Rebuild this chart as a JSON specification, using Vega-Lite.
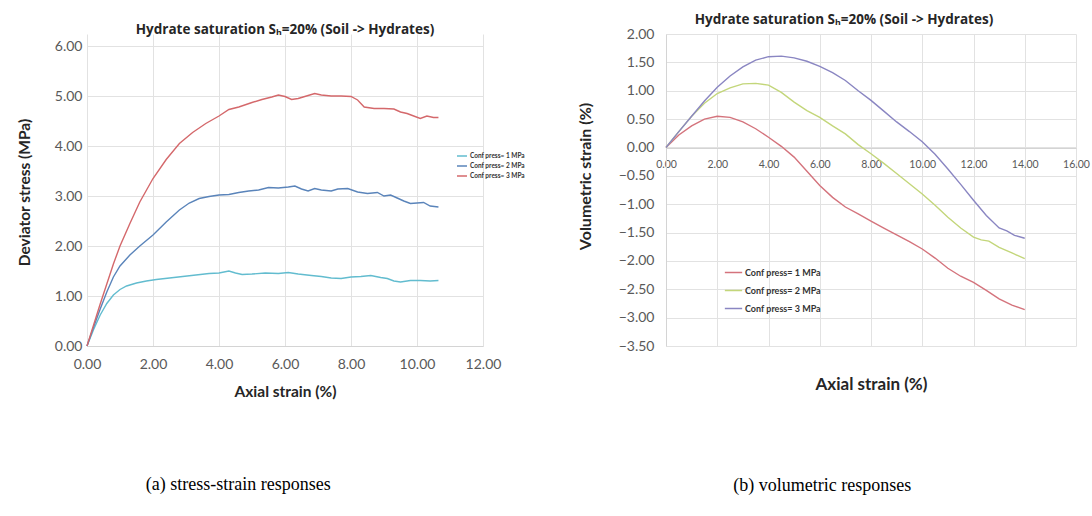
{
  "$schema": "https://vega.github.io/schema/vega-lite/v6.json",
  "padding": {"left": 17, "top": 12, "right": 5, "bottom": 5},
  "background": "white",
  "config": {
    "view": {"stroke": null},
    "axis": {"labelFont": "Lato", "titleFont": "Lato", "labelColor": "#595959", "gridColor": "#e2e2e2", "domainColor": "#d4d4d4", "ticks": false, "titleColor": "#262626", "titleFontWeight": "bold", "labelFlush": false, "labelOverlap": false},
    "legend": {"labelFont": "Lato", "labelColor": "#333333", "symbolType": "stroke", "symbolStrokeWidth": 1.5}
  },
  "resolve": {"scale": {"color": "independent"}, "legend": {"color": "independent"}},
  "datasets": {
    "stress": [
      {"press": "Conf press= 1 MPa", "strain": 0, "stress": 0}, {"press": "Conf press= 1 MPa", "strain": 0.2, "stress": 0.33}, {"press": "Conf press= 1 MPa", "strain": 0.4, "stress": 0.62}, {"press": "Conf press= 1 MPa", "strain": 0.6, "stress": 0.85}, {"press": "Conf press= 1 MPa", "strain": 0.8, "stress": 1.02}, {"press": "Conf press= 1 MPa", "strain": 1.0, "stress": 1.13}, {"press": "Conf press= 1 MPa", "strain": 1.2, "stress": 1.2}, {"press": "Conf press= 1 MPa", "strain": 1.5, "stress": 1.26}, {"press": "Conf press= 1 MPa", "strain": 1.8, "stress": 1.3}, {"press": "Conf press= 1 MPa", "strain": 2.1, "stress": 1.33}, {"press": "Conf press= 1 MPa", "strain": 2.5, "stress": 1.36}, {"press": "Conf press= 1 MPa", "strain": 2.9, "stress": 1.39}, {"press": "Conf press= 1 MPa", "strain": 3.3, "stress": 1.42}, {"press": "Conf press= 1 MPa", "strain": 3.7, "stress": 1.45}, {"press": "Conf press= 1 MPa", "strain": 4.0, "stress": 1.46}, {"press": "Conf press= 1 MPa", "strain": 4.3, "stress": 1.5}, {"press": "Conf press= 1 MPa", "strain": 4.5, "stress": 1.46}, {"press": "Conf press= 1 MPa", "strain": 4.7, "stress": 1.43}, {"press": "Conf press= 1 MPa", "strain": 5.0, "stress": 1.44}, {"press": "Conf press= 1 MPa", "strain": 5.4, "stress": 1.46}, {"press": "Conf press= 1 MPa", "strain": 5.8, "stress": 1.45}, {"press": "Conf press= 1 MPa", "strain": 6.1, "stress": 1.47}, {"press": "Conf press= 1 MPa", "strain": 6.4, "stress": 1.44}, {"press": "Conf press= 1 MPa", "strain": 6.8, "stress": 1.41}, {"press": "Conf press= 1 MPa", "strain": 7.1, "stress": 1.39}, {"press": "Conf press= 1 MPa", "strain": 7.4, "stress": 1.36}, {"press": "Conf press= 1 MPa", "strain": 7.7, "stress": 1.35}, {"press": "Conf press= 1 MPa", "strain": 8.0, "stress": 1.38}, {"press": "Conf press= 1 MPa", "strain": 8.3, "stress": 1.39}, {"press": "Conf press= 1 MPa", "strain": 8.6, "stress": 1.41}, {"press": "Conf press= 1 MPa", "strain": 8.9, "stress": 1.37}, {"press": "Conf press= 1 MPa", "strain": 9.1, "stress": 1.35}, {"press": "Conf press= 1 MPa", "strain": 9.3, "stress": 1.3}, {"press": "Conf press= 1 MPa", "strain": 9.5, "stress": 1.28}, {"press": "Conf press= 1 MPa", "strain": 9.8, "stress": 1.31}, {"press": "Conf press= 1 MPa", "strain": 10.1, "stress": 1.31}, {"press": "Conf press= 1 MPa", "strain": 10.4, "stress": 1.3}, {"press": "Conf press= 1 MPa", "strain": 10.65, "stress": 1.31},
      {"press": "Conf press= 2 MPa", "strain": 0, "stress": 0}, {"press": "Conf press= 2 MPa", "strain": 0.2, "stress": 0.38}, {"press": "Conf press= 2 MPa", "strain": 0.4, "stress": 0.74}, {"press": "Conf press= 2 MPa", "strain": 0.6, "stress": 1.08}, {"press": "Conf press= 2 MPa", "strain": 0.8, "stress": 1.38}, {"press": "Conf press= 2 MPa", "strain": 1.0, "stress": 1.6}, {"press": "Conf press= 2 MPa", "strain": 1.3, "stress": 1.82}, {"press": "Conf press= 2 MPa", "strain": 1.6, "stress": 2.0}, {"press": "Conf press= 2 MPa", "strain": 2.0, "stress": 2.22}, {"press": "Conf press= 2 MPa", "strain": 2.4, "stress": 2.48}, {"press": "Conf press= 2 MPa", "strain": 2.8, "stress": 2.72}, {"press": "Conf press= 2 MPa", "strain": 3.1, "stress": 2.86}, {"press": "Conf press= 2 MPa", "strain": 3.4, "stress": 2.95}, {"press": "Conf press= 2 MPa", "strain": 3.7, "stress": 2.99}, {"press": "Conf press= 2 MPa", "strain": 4.0, "stress": 3.02}, {"press": "Conf press= 2 MPa", "strain": 4.3, "stress": 3.03}, {"press": "Conf press= 2 MPa", "strain": 4.6, "stress": 3.07}, {"press": "Conf press= 2 MPa", "strain": 4.9, "stress": 3.1}, {"press": "Conf press= 2 MPa", "strain": 5.2, "stress": 3.12}, {"press": "Conf press= 2 MPa", "strain": 5.5, "stress": 3.17}, {"press": "Conf press= 2 MPa", "strain": 5.8, "stress": 3.16}, {"press": "Conf press= 2 MPa", "strain": 6.1, "stress": 3.18}, {"press": "Conf press= 2 MPa", "strain": 6.3, "stress": 3.2}, {"press": "Conf press= 2 MPa", "strain": 6.5, "stress": 3.14}, {"press": "Conf press= 2 MPa", "strain": 6.7, "stress": 3.1}, {"press": "Conf press= 2 MPa", "strain": 6.9, "stress": 3.15}, {"press": "Conf press= 2 MPa", "strain": 7.1, "stress": 3.12}, {"press": "Conf press= 2 MPa", "strain": 7.4, "stress": 3.1}, {"press": "Conf press= 2 MPa", "strain": 7.6, "stress": 3.14}, {"press": "Conf press= 2 MPa", "strain": 7.9, "stress": 3.15}, {"press": "Conf press= 2 MPa", "strain": 8.2, "stress": 3.08}, {"press": "Conf press= 2 MPa", "strain": 8.5, "stress": 3.05}, {"press": "Conf press= 2 MPa", "strain": 8.8, "stress": 3.07}, {"press": "Conf press= 2 MPa", "strain": 9.0, "stress": 3.0}, {"press": "Conf press= 2 MPa", "strain": 9.2, "stress": 3.02}, {"press": "Conf press= 2 MPa", "strain": 9.4, "stress": 2.96}, {"press": "Conf press= 2 MPa", "strain": 9.6, "stress": 2.9}, {"press": "Conf press= 2 MPa", "strain": 9.8, "stress": 2.85}, {"press": "Conf press= 2 MPa", "strain": 10.0, "stress": 2.86}, {"press": "Conf press= 2 MPa", "strain": 10.2, "stress": 2.87}, {"press": "Conf press= 2 MPa", "strain": 10.4, "stress": 2.8}, {"press": "Conf press= 2 MPa", "strain": 10.65, "stress": 2.78},
      {"press": "Conf press= 3 MPa", "strain": 0, "stress": 0}, {"press": "Conf press= 3 MPa", "strain": 0.2, "stress": 0.42}, {"press": "Conf press= 3 MPa", "strain": 0.4, "stress": 0.84}, {"press": "Conf press= 3 MPa", "strain": 0.6, "stress": 1.24}, {"press": "Conf press= 3 MPa", "strain": 0.8, "stress": 1.64}, {"press": "Conf press= 3 MPa", "strain": 1.0, "stress": 2.0}, {"press": "Conf press= 3 MPa", "strain": 1.3, "stress": 2.45}, {"press": "Conf press= 3 MPa", "strain": 1.6, "stress": 2.88}, {"press": "Conf press= 3 MPa", "strain": 2.0, "stress": 3.35}, {"press": "Conf press= 3 MPa", "strain": 2.4, "stress": 3.73}, {"press": "Conf press= 3 MPa", "strain": 2.8, "stress": 4.05}, {"press": "Conf press= 3 MPa", "strain": 3.2, "stress": 4.27}, {"press": "Conf press= 3 MPa", "strain": 3.6, "stress": 4.45}, {"press": "Conf press= 3 MPa", "strain": 4.0, "stress": 4.6}, {"press": "Conf press= 3 MPa", "strain": 4.3, "stress": 4.73}, {"press": "Conf press= 3 MPa", "strain": 4.6, "stress": 4.78}, {"press": "Conf press= 3 MPa", "strain": 5.0, "stress": 4.87}, {"press": "Conf press= 3 MPa", "strain": 5.3, "stress": 4.93}, {"press": "Conf press= 3 MPa", "strain": 5.6, "stress": 4.98}, {"press": "Conf press= 3 MPa", "strain": 5.8, "stress": 5.02}, {"press": "Conf press= 3 MPa", "strain": 6.0, "stress": 4.99}, {"press": "Conf press= 3 MPa", "strain": 6.2, "stress": 4.93}, {"press": "Conf press= 3 MPa", "strain": 6.4, "stress": 4.95}, {"press": "Conf press= 3 MPa", "strain": 6.6, "stress": 4.99}, {"press": "Conf press= 3 MPa", "strain": 6.9, "stress": 5.05}, {"press": "Conf press= 3 MPa", "strain": 7.1, "stress": 5.02}, {"press": "Conf press= 3 MPa", "strain": 7.4, "stress": 5.0}, {"press": "Conf press= 3 MPa", "strain": 7.7, "stress": 5.0}, {"press": "Conf press= 3 MPa", "strain": 8.0, "stress": 4.99}, {"press": "Conf press= 3 MPa", "strain": 8.2, "stress": 4.92}, {"press": "Conf press= 3 MPa", "strain": 8.4, "stress": 4.78}, {"press": "Conf press= 3 MPa", "strain": 8.7, "stress": 4.75}, {"press": "Conf press= 3 MPa", "strain": 9.0, "stress": 4.75}, {"press": "Conf press= 3 MPa", "strain": 9.3, "stress": 4.74}, {"press": "Conf press= 3 MPa", "strain": 9.5, "stress": 4.68}, {"press": "Conf press= 3 MPa", "strain": 9.7, "stress": 4.65}, {"press": "Conf press= 3 MPa", "strain": 9.9, "stress": 4.6}, {"press": "Conf press= 3 MPa", "strain": 10.1, "stress": 4.55}, {"press": "Conf press= 3 MPa", "strain": 10.3, "stress": 4.6}, {"press": "Conf press= 3 MPa", "strain": 10.5, "stress": 4.57}, {"press": "Conf press= 3 MPa", "strain": 10.65, "stress": 4.57}
    ],
    "vol": [
      {"press": "Conf press= 1 MPa", "strain": 0, "vol": 0}, {"press": "Conf press= 1 MPa", "strain": 0.5, "vol": 0.22}, {"press": "Conf press= 1 MPa", "strain": 1, "vol": 0.38}, {"press": "Conf press= 1 MPa", "strain": 1.5, "vol": 0.5}, {"press": "Conf press= 1 MPa", "strain": 2, "vol": 0.55}, {"press": "Conf press= 1 MPa", "strain": 2.5, "vol": 0.53}, {"press": "Conf press= 1 MPa", "strain": 3, "vol": 0.45}, {"press": "Conf press= 1 MPa", "strain": 3.5, "vol": 0.33}, {"press": "Conf press= 1 MPa", "strain": 4, "vol": 0.18}, {"press": "Conf press= 1 MPa", "strain": 4.5, "vol": 0.02}, {"press": "Conf press= 1 MPa", "strain": 5, "vol": -0.17}, {"press": "Conf press= 1 MPa", "strain": 5.5, "vol": -0.42}, {"press": "Conf press= 1 MPa", "strain": 6, "vol": -0.67}, {"press": "Conf press= 1 MPa", "strain": 6.5, "vol": -0.88}, {"press": "Conf press= 1 MPa", "strain": 7, "vol": -1.05}, {"press": "Conf press= 1 MPa", "strain": 7.5, "vol": -1.17}, {"press": "Conf press= 1 MPa", "strain": 8, "vol": -1.3}, {"press": "Conf press= 1 MPa", "strain": 8.5, "vol": -1.42}, {"press": "Conf press= 1 MPa", "strain": 9, "vol": -1.54}, {"press": "Conf press= 1 MPa", "strain": 9.5, "vol": -1.66}, {"press": "Conf press= 1 MPa", "strain": 10, "vol": -1.79}, {"press": "Conf press= 1 MPa", "strain": 10.5, "vol": -1.95}, {"press": "Conf press= 1 MPa", "strain": 11, "vol": -2.13}, {"press": "Conf press= 1 MPa", "strain": 11.5, "vol": -2.27}, {"press": "Conf press= 1 MPa", "strain": 12, "vol": -2.38}, {"press": "Conf press= 1 MPa", "strain": 12.5, "vol": -2.52}, {"press": "Conf press= 1 MPa", "strain": 13, "vol": -2.67}, {"press": "Conf press= 1 MPa", "strain": 13.5, "vol": -2.78}, {"press": "Conf press= 1 MPa", "strain": 14, "vol": -2.86},
      {"press": "Conf press= 2 MPa", "strain": 0, "vol": 0}, {"press": "Conf press= 2 MPa", "strain": 0.5, "vol": 0.28}, {"press": "Conf press= 2 MPa", "strain": 1, "vol": 0.55}, {"press": "Conf press= 2 MPa", "strain": 1.5, "vol": 0.78}, {"press": "Conf press= 2 MPa", "strain": 2, "vol": 0.95}, {"press": "Conf press= 2 MPa", "strain": 2.5, "vol": 1.05}, {"press": "Conf press= 2 MPa", "strain": 3, "vol": 1.12}, {"press": "Conf press= 2 MPa", "strain": 3.5, "vol": 1.13}, {"press": "Conf press= 2 MPa", "strain": 4, "vol": 1.1}, {"press": "Conf press= 2 MPa", "strain": 4.5, "vol": 0.97}, {"press": "Conf press= 2 MPa", "strain": 5, "vol": 0.8}, {"press": "Conf press= 2 MPa", "strain": 5.5, "vol": 0.65}, {"press": "Conf press= 2 MPa", "strain": 6, "vol": 0.53}, {"press": "Conf press= 2 MPa", "strain": 6.5, "vol": 0.38}, {"press": "Conf press= 2 MPa", "strain": 7, "vol": 0.24}, {"press": "Conf press= 2 MPa", "strain": 7.5, "vol": 0.05}, {"press": "Conf press= 2 MPa", "strain": 8, "vol": -0.11}, {"press": "Conf press= 2 MPa", "strain": 8.5, "vol": -0.28}, {"press": "Conf press= 2 MPa", "strain": 9, "vol": -0.46}, {"press": "Conf press= 2 MPa", "strain": 9.5, "vol": -0.64}, {"press": "Conf press= 2 MPa", "strain": 10, "vol": -0.82}, {"press": "Conf press= 2 MPa", "strain": 10.5, "vol": -1.02}, {"press": "Conf press= 2 MPa", "strain": 11, "vol": -1.23}, {"press": "Conf press= 2 MPa", "strain": 11.5, "vol": -1.42}, {"press": "Conf press= 2 MPa", "strain": 12, "vol": -1.58}, {"press": "Conf press= 2 MPa", "strain": 12.3, "vol": -1.63}, {"press": "Conf press= 2 MPa", "strain": 12.6, "vol": -1.65}, {"press": "Conf press= 2 MPa", "strain": 13, "vol": -1.76}, {"press": "Conf press= 2 MPa", "strain": 13.5, "vol": -1.86}, {"press": "Conf press= 2 MPa", "strain": 14, "vol": -1.96},
      {"press": "Conf press= 3 MPa", "strain": 0, "vol": 0}, {"press": "Conf press= 3 MPa", "strain": 0.5, "vol": 0.28}, {"press": "Conf press= 3 MPa", "strain": 1, "vol": 0.55}, {"press": "Conf press= 3 MPa", "strain": 1.5, "vol": 0.82}, {"press": "Conf press= 3 MPa", "strain": 2, "vol": 1.06}, {"press": "Conf press= 3 MPa", "strain": 2.5, "vol": 1.26}, {"press": "Conf press= 3 MPa", "strain": 3, "vol": 1.42}, {"press": "Conf press= 3 MPa", "strain": 3.5, "vol": 1.54}, {"press": "Conf press= 3 MPa", "strain": 4, "vol": 1.6}, {"press": "Conf press= 3 MPa", "strain": 4.5, "vol": 1.61}, {"press": "Conf press= 3 MPa", "strain": 5, "vol": 1.58}, {"press": "Conf press= 3 MPa", "strain": 5.5, "vol": 1.52}, {"press": "Conf press= 3 MPa", "strain": 6, "vol": 1.43}, {"press": "Conf press= 3 MPa", "strain": 6.5, "vol": 1.32}, {"press": "Conf press= 3 MPa", "strain": 7, "vol": 1.18}, {"press": "Conf press= 3 MPa", "strain": 7.5, "vol": 1.0}, {"press": "Conf press= 3 MPa", "strain": 8, "vol": 0.83}, {"press": "Conf press= 3 MPa", "strain": 8.5, "vol": 0.64}, {"press": "Conf press= 3 MPa", "strain": 9, "vol": 0.45}, {"press": "Conf press= 3 MPa", "strain": 9.5, "vol": 0.28}, {"press": "Conf press= 3 MPa", "strain": 10, "vol": 0.1}, {"press": "Conf press= 3 MPa", "strain": 10.5, "vol": -0.12}, {"press": "Conf press= 3 MPa", "strain": 11, "vol": -0.38}, {"press": "Conf press= 3 MPa", "strain": 11.5, "vol": -0.65}, {"press": "Conf press= 3 MPa", "strain": 12, "vol": -0.93}, {"press": "Conf press= 3 MPa", "strain": 12.5, "vol": -1.2}, {"press": "Conf press= 3 MPa", "strain": 13, "vol": -1.42}, {"press": "Conf press= 3 MPa", "strain": 13.3, "vol": -1.47}, {"press": "Conf press= 3 MPa", "strain": 13.6, "vol": -1.55}, {"press": "Conf press= 3 MPa", "strain": 14, "vol": -1.6}
    ]
  },
  "spacing": 52,
  "hconcat": [
    {
      "title": {"text": "(a) stress-strain responses", "orient": "bottom", "anchor": "middle", "frame": "bounds", "font": "Liberation Serif", "fontSize": 18, "fontWeight": "normal", "color": "#000000", "offset": 76, "dx": -33},
      "vconcat": [
        {
          "width": 396,
          "height": 312,
          "title": {"text": "Hydrate  saturation Sₕ=20% (Soil -> Hydrates)", "font": "Open Sans", "fontSize": 13.5, "fontWeight": "bold", "color": "#262626", "offset": -2, "dx": 0},
          "data": {"name": "stress"},
          "mark": {"type": "line", "strokeWidth": 1.4},
          "encoding": {
            "x": {"field": "strain", "type": "quantitative", "scale": {"domain": [0, 12], "nice": false},
                  "axis": {"values": [0, 2, 4, 6, 8, 10, 12], "format": ".2f", "title": "Axial strain (%)", "labelFontSize": 14, "labelPadding": 11, "titleFontSize": 15.5, "titlePadding": 13}},
            "y": {"field": "stress", "type": "quantitative", "scale": {"domain": [0, 6.24], "nice": false, "zero": true},
                  "axis": {"values": [0, 1, 2, 3, 4, 5, 6], "format": ".2f", "title": "Deviator stress (MPa)", "domain": false, "labelFontSize": 14, "labelPadding": 5, "titleFontSize": 15.5, "titlePadding": 22, "titleY": 158}},
            "color": {"field": "press", "type": "nominal", "title": null,
                      "scale": {"domain": ["Conf press= 1 MPa", "Conf press= 2 MPa", "Conf press= 3 MPa"], "range": ["#62bccf", "#5a84ba", "#d4686b"]},
                      "legend": {"orient": "none", "legendX": 369, "legendY": 116, "labelFontSize": 6.5, "labelFontWeight": "bold", "symbolSize": 100, "rowPadding": 0, "labelOffset": 2}}
          }
        }
      ]
    },
    {
      "title": {"text": "(b) volumetric responses", "orient": "bottom", "anchor": "middle", "frame": "bounds", "font": "Liberation Serif", "fontSize": 18, "fontWeight": "normal", "color": "#000000", "offset": 85, "dx": -11},
      "vconcat": [
        {
          "width": 410,
          "height": 312,
          "title": {"text": "Hydrate saturation Sₕ=20%  (Soil -> Hydrates)", "font": "Open Sans", "fontSize": 13.5, "fontWeight": "bold", "color": "#262626", "offset": 1, "dx": -27},
          "data": {"name": "vol"},
          "mark": {"type": "line", "strokeWidth": 1.4},
          "encoding": {
            "x": {"field": "strain", "type": "quantitative", "scale": {"domain": [0, 16], "nice": false},
                  "axis": {"values": [0, 2, 4, 6, 8, 10, 12, 14, 16], "format": ".2f", "offset": -198, "title": "Axial  strain  (%)", "labelFontSize": 10.5, "labelPadding": 11, "titleFontSize": 17, "titleY": 236, "titleBaseline": "middle"}},
            "y": {"field": "vol", "type": "quantitative", "scale": {"domain": [-3.5, 2], "nice": false},
                  "axis": {"values": [-3.5, -3, -2.5, -2, -1.5, -1, -0.5, 0, 0.5, 1, 1.5, 2], "format": ".2f", "title": "Volumetric  strain  (%)", "labelFontSize": 14, "labelPadding": 12, "titleFontSize": 16, "titlePadding": 25, "titleY": 142}},
            "color": {"field": "press", "type": "nominal", "title": null,
                      "scale": {"domain": ["Conf press= 1 MPa", "Conf press= 2 MPa", "Conf press= 3 MPa"], "range": ["#d4737c", "#c3d67a", "#8a86c2"]},
                      "legend": {"orient": "none", "legendX": 58, "legendY": 229, "labelFontSize": 9, "labelFontWeight": "bold", "symbolSize": 300, "rowPadding": 3, "labelOffset": 2}}
          }
        }
      ]
    }
  ]
}
